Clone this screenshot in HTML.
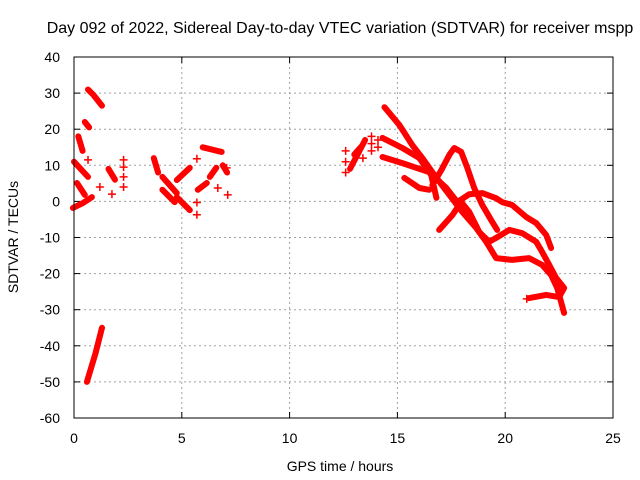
<!DOCTYPE html>
<html><head><meta charset="utf-8">
<style>
html,body{margin:0;padding:0;background:#fff;}
svg{display:block;font-family:"Liberation Sans",sans-serif;}
</style></head>
<body>
<svg id="chart" width="640" height="480" viewBox="0 0 640 480">
<text x="340" y="33" font-size="16" text-anchor="middle" fill="#000">Day 092 of 2022, Sidereal Day-to-day VTEC variation (SDTVAR) for receiver mspp</text>
<g id="grid"></g>
<g id="axes"></g>
<g id="marks"></g>
<rect x="74" y="57" width="539" height="361" fill="none" stroke="#000" stroke-width="1"/>
<text x="340" y="471" font-size="14" text-anchor="middle">GPS time / hours</text>
<text x="18" y="237" font-size="14" text-anchor="middle" transform="rotate(-90 18 237)">SDTVAR / TECUs</text>
</svg>
<script>
const xTicks = [0,5,10,15,20,25];
const yTicks = [-60,-50,-40,-30,-20,-10,0,10,20,30,40];
const trackA = [[14.4,26.1],[15.09,21.2],[15.69,15.6],[16.16,12.0],[16.71,7.3],[17.41,1.8],[18.01,-2.9],[18.66,-7.4],[19.12,-11.2],[19.58,-15.7],[20.32,-16.2],[21.11,-15.7],[21.71,-17.6],[22.13,-20.4],[22.41,-24.0],[22.73,-30.9]];
const trackB = [[16.62,4.5],[17.04,8.7],[17.41,12.9],[17.64,14.8],[17.96,13.7],[18.24,9.3],[18.56,3.7],[18.94,-1.0],[19.35,-5.2],[19.63,-7.9]];
const trackC = [[14.31,17.6],[15.23,14.8],[16.02,12.0],[16.57,7.3],[16.81,1.0]];
const trackD = [[14.31,12.3],[15.23,10.6],[16.48,8.1],[17.27,3.7],[17.78,-0.2],[18.33,2.0],[18.94,2.3],[19.58,0.9],[19.86,-0.2],[20.32,-1.0],[20.97,-4.3],[21.44,-6.0],[21.9,-9.3],[22.13,-12.9]];
const trackD2 = [[16.94,-7.9],[17.55,-3.8],[17.96,-0.2]];
const trackE = [[15.32,6.5],[16.02,3.7],[16.48,3.2]];
const trackF = [[17.96,-0.2],[18.33,-2.9],[18.8,-8.5],[19.26,-11.2],[19.58,-10.1],[20.19,-7.9],[20.79,-8.8],[21.44,-11.2],[21.71,-14.0],[22.04,-17.6],[22.36,-21.2],[22.73,-24.0],[22.5,-26.5],[21.9,-25.9],[21.11,-26.8]];
const blobs = [
 [[0.65,31],[0.9,29.5],[1.3,26.5]],
 [[0.5,22],[0.7,20.5]],
 [[0.2,18],[0.4,14]],
 [[0.0,11],[0.65,6.8]],
 [[0.14,5.1],[0.5,1.8]],
 [[-0.05,-1.8],[0.4,-0.5],[0.83,1.2]],
 [[1.6,9],[1.9,6]],
 [[3.7,12],[3.9,8]],
 [[4.1,6.8],[4.77,2.3]],
 [[4.1,3.2],[4.67,-0.2]],
 [[4.77,1.2],[5.37,-2.4]],
 [[4.77,5.9],[5.37,9.3]],
 [[5.97,15],[6.85,13.7]],
 [[5.74,3.2],[6.16,5.1]],
 [[6.3,6.8],[6.6,9.3]],
 [[6.9,10],[7.1,8]],
 [[0.6,-50],[1.0,-42],[1.3,-35]],
 [[12.8,9],[13.5,17]],
 [[13.0,13],[13.3,15]]
];
const singlesH = [0.65,1.2,1.76,2.3,2.3,2.3,2.3,5.7,5.7,5.7,6.67,7.13,7.08,12.6,12.6,12.6,13.8,13.8,13.8,14.1,14.1,13.4,21.0];
const singlesV = [11.5,4,2,11.5,9.5,6.8,4,11.8,-0.3,-3.7,3.7,1.8,9.3,14,11,8,18,16,14,17,15,12,-27];
const NS='http://www.w3.org/2000/svg';
const X0=74,X1=613,Y0=418,Y1=57;
function xs(h){return X0+(h-0)/(25-0)*(X1-X0);}
function ys(v){return Y0-(v+60)/(100)*(Y0-Y1);}
const grid=document.getElementById('grid'),axes=document.getElementById('axes'),marks=document.getElementById('marks');
function mk(tag,attrs,parent){const e=document.createElementNS(NS,tag);for(const k in attrs)e.setAttribute(k,attrs[k]);parent.appendChild(e);return e;}
xTicks.forEach(t=>{
 const x=xs(t);
 if(t>0&&t<25){const g=mk('line',{x1:x,x2:x,y1:Y1,y2:Y0,stroke:'#a0a0a0','stroke-dasharray':'2,3'},grid);
 
 }
 mk('line',{x1:x,x2:x,y1:Y0,y2:Y0-6,stroke:'#000'},axes);
 mk('line',{x1:x,x2:x,y1:Y1,y2:Y1+6,stroke:'#000'},axes);
 const l=mk('text',{x:x,y:443,'font-size':14,'text-anchor':'middle'},axes);l.textContent=t;
 
 
});
yTicks.forEach(t=>{
 const y=ys(t);
 if(t>-60&&t<40){const g=mk('line',{x1:X0,x2:X1,y1:y,y2:y,stroke:'#a0a0a0','stroke-dasharray':'2,3'},grid);
 
 }
 mk('line',{x1:X0,x2:X0+6,y1:y,y2:y,stroke:'#000'},axes);
 mk('line',{x1:X1,x2:X1-6,y1:y,y2:y,stroke:'#000'},axes);
 const l=mk('text',{x:60,y:y+5,'font-size':14,'text-anchor':'end'},axes);l.textContent=t;
 
 
});
function track(pts,w,name){
 const d=pts.map((p,i)=>(i?'L':'M')+xs(p[0]).toFixed(1)+','+ys(p[1]).toFixed(1)).join(' ');
 const p=mk('path',{d:d,fill:'none',stroke:'#ff0000','stroke-width':w,'stroke-linecap':'round','stroke-linejoin':'round'},marks);
 
 
}
[trackA,trackB,trackC,trackD,trackD2,trackE,trackF].forEach(t=>track(t,6,'sdtvar-track'));
blobs.forEach(b=>track(b,6,'sdtvar-cluster'));
singlesH.forEach((h,i)=>{
 const x=xs(h),y=ys(singlesV[i]);
 const p=mk('path',{d:`M${x-4},${y}H${x+4}M${x},${y-4}V${y+4}`,stroke:'#ff0000','stroke-width':1.5,fill:'none'},marks);
 
 
});
</script>
</body></html>
